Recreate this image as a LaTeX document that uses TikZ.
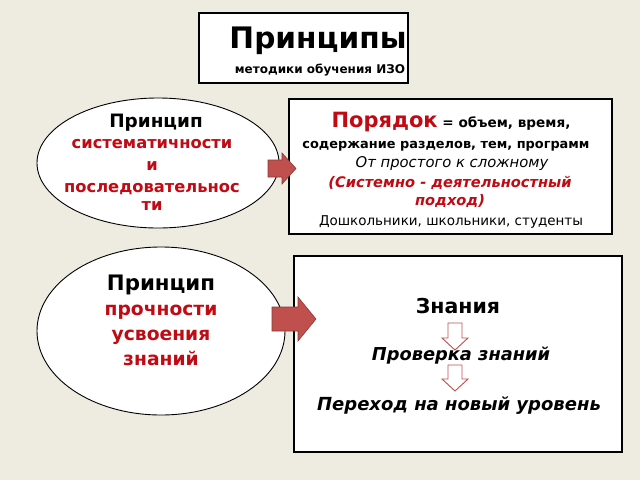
\documentclass[tikz,border=0pt]{standalone}
\usepackage{fontspec}
\setmainfont{DejaVu Sans}
\usetikzlibrary{shapes.geometric}
\definecolor{bg}{RGB}{238,236,225}
\definecolor{redtxt}{RGB}{192,10,20}
\definecolor{arrfill}{RGB}{192,80,77}
\definecolor{arrline}{RGB}{140,56,54}
\newcommand{\fs}[1]{\fontsize{#1}{#1}\selectfont}
\tikzset{
  boxshape/.style={draw=black, line width=1.3pt, fill=white, inner sep=0pt},
  ellshape/.style={draw=black, line width=0.9pt, fill=white, ellipse, inner sep=0pt},
  txt/.style={anchor=base, inner sep=0pt, outer sep=0pt},
  bigarrow/.style={fill=arrfill, draw=arrline, line width=0.6pt},
  smallarrow/.style={fill=white, draw=arrfill, line width=0.9pt},
}
\begin{document}
\begin{tikzpicture}[x=1pt,y=-1pt]
\fill[bg] (0,0) rectangle (640,480);
\useasboundingbox (0,0) rectangle (640,480);

% title box
\node[boxshape, minimum width=209pt, minimum height=70pt] (title) at (303.5,48) {};
\node[txt, font=\bfseries\fs{29.6}] (t1) at (318,48) {Принципы};
\node[txt, font=\bfseries\fs{12}] (t2) at (320,73) {методики обучения ИЗО};

% ellipse 1
\node[ellshape, minimum width=242pt, minimum height=130pt] (e1) at (158,163) {};
\node[txt, font=\bfseries\fs{18.4}] (e1a) at (156,127) {Принцип};
\node[txt, font=\bfseries\fs{16.3}, text=redtxt] (e1b) at (152,148) {систематичности};
\node[txt, font=\bfseries\fs{16.3}, text=redtxt] (e1c) at (152,170) {и};
\node[txt, font=\bfseries\fs{16.3}, text=redtxt] (e1d) at (152,192) {последовательнос};
\node[txt, font=\bfseries\fs{16.3}, text=redtxt] (e1e) at (152,210) {ти};

% box 2
\node[boxshape, minimum width=323pt, minimum height=135pt] (b2) at (450.5,166.5) {};
\node[txt, font=\bfseries\fs{13.6}] (b2a) at (451,127) {\textcolor{redtxt}{\fs{21}Порядок} = объем, время,};
\node[txt, font=\bfseries\fs{12.9}] (b2b) at (446,148) {содержание разделов, тем, программ};
\node[txt, font=\itshape\fs{14.8}] (b2c) at (452,167) {От простого к сложному};
\node[txt, font=\bfseries\itshape\fs{14.6}, text=redtxt] (b2d) at (450,187) {(Системно - деятельностный};
\node[txt, font=\bfseries\itshape\fs{14.6}, text=redtxt] (b2e) at (450,205) {подход)};
\node[txt, font=\fs{13.5}] (b2f) at (451,225) {Дошкольники, школьники, студенты};

% ellipse 2
\node[ellshape, minimum width=248pt, minimum height=168pt] (e2) at (161,331) {};
\node[txt, font=\bfseries\fs{21.3}] (e2a) at (161,290) {Принцип};
\node[txt, font=\bfseries\fs{18.7}, text=redtxt] (e2b) at (161,315) {прочности};
\node[txt, font=\bfseries\fs{18.7}, text=redtxt] (e2c) at (161,340) {усвоения};
\node[txt, font=\bfseries\fs{18.7}, text=redtxt] (e2d) at (161,365) {знаний};

% box 3
\node[boxshape, minimum width=328pt, minimum height=196pt] (b3) at (458,354) {};
\node[txt, font=\bfseries\fs{20.5}] (b3a) at (458,313) {Знания};
\draw[smallarrow] (448,323) -- (462,323) -- (462,338) -- (468,338) -- (455,350) -- (442,338) -- (448,338) -- cycle;
\draw[smallarrow] (448,365) -- (462,365) -- (462,379) -- (468,379) -- (455,391) -- (442,379) -- (448,379) -- cycle;
\node[txt, font=\bfseries\itshape\fs{17.8}] (b3b) at (461,360) {Проверка знаний};
\node[txt, font=\bfseries\itshape\fs{18}] (b3c) at (459,410) {Переход на новый уровень};

% big arrows
\draw[bigarrow] (268,160) -- (282,160) -- (282,153) -- (296,168.5) -- (282,184) -- (282,177) -- (268,177) -- cycle;
\draw[bigarrow] (272,307) -- (298,307) -- (298,297) -- (316,319) -- (298,341) -- (298,331) -- (272,331) -- cycle;
\end{tikzpicture}
\end{document}
